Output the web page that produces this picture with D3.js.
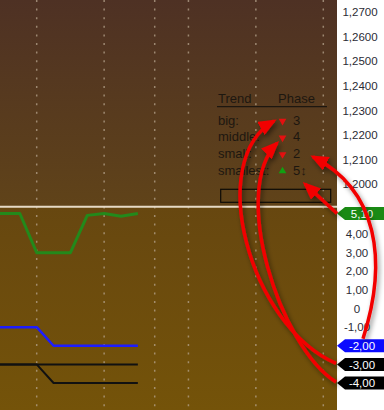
<!DOCTYPE html>
<html>
<meta charset="utf-8">
<title>Trend phase oscillator</title>
<script src="https://d3js.org/d3.v7.min.js"></script>
<style>
body { margin: 0; background: #fff; }
svg { display: block; font-family: "Liberation Sans", Arial, sans-serif; }
.grid { stroke: #b5a38c; stroke-width: 1.5; stroke-dasharray: 2,6.6; opacity: .75; }
.axis text { font-family: "Liberation Sans", Arial, sans-serif; font-size: 11.5px; fill: #2b2b35; }
.legend text { font-size: 13px; fill: #1d1710; }
.tag text { font-family: "Liberation Sans", Arial, sans-serif; font-size: 11.5px; fill: #fff; }
.arrow { fill: none; stroke: #f20000; stroke-width: 3.5; }
</style>
<body>
<svg width="384" height="410"></svg>
<script>
// values
var priceTicks = [1.27, 1.26, 1.25, 1.24, 1.23, 1.22, 1.21, 1.20];
var oscTicks = [4, 3, 2, 1, 0, -1, -2, -3, -4];
var gridBars = [3, 7, 10, 12, 16, 20];
var greenSeries = [5.1, 5.1, 5.1, 3, 3, 3, 5.0, 5.1, 4.95, 5.1];
var blueSeries = [-1, -1, -1, -1, -2, -2, -2, -2, -2, -2];
var blackSeries = [-3, -3, -3, -3, -3, -3, -3, -3, -3, -3];
var black2Series = [-3, -3, -3, -3, -4, -4, -4, -4, -4, -4];
var trendNames = ["big:", "middle:", "small:", "smallest:"];
var phaseValues = [3, 4, 2, 5];
var phaseDirs = ["down", "down", "down", "up"];

var svg = d3.select("svg"),
  W = +svg.attr("width"), H = +svg.attr("height"),
  plotW = 337, split = 206.7;

var x = d3.scaleLinear().domain([3, 20]).range([36.7, 323.3]);
var yPrice = d3.scaleLinear().domain([1.20, 1.27]).range([184.3, 11.7]);
var yOsc = d3.scaleLinear().domain([-4, 4]).range([383, 234]);

var loc = d3.formatLocale({decimal: ",", thousands: ".", grouping: [3], currency: ["", ""], minus: "-"});
var fPrice = loc.format(".4f"), fOsc2 = loc.format(".2f");
var fOsc = function(d) { return d === 0 ? "0" : fOsc2(d); };

var defs = svg.append("defs");
function grad(id, c0, c1) {
  var g = defs.append("linearGradient").attr("id", id).attr("x1", 0).attr("y1", 0).attr("x2", 0).attr("y2", 1);
  g.append("stop").attr("offset", "0%").attr("stop-color", c0);
  g.append("stop").attr("offset", "100%").attr("stop-color", c1);
}
grad("topBg", "#4e3124", "#604319");
grad("botBg", "#674710", "#745309");
defs.append("clipPath").attr("id", "botClip").append("rect")
  .attr("x", 0).attr("y", split).attr("width", plotW).attr("height", H - split);
var sh = defs.append("filter").attr("id", "shadow").attr("x", "-20%").attr("y", "-20%").attr("width", "140%").attr("height", "140%");
sh.append("feDropShadow").attr("dx", 2).attr("dy", 3).attr("stdDeviation", 2.5)
  .attr("flood-color", "#000").attr("flood-opacity", 0.45);
defs.append("marker").attr("id", "head")
  .attr("viewBox", "0 0 18 15").attr("refX", 15).attr("refY", 7.5)
  .attr("markerWidth", 18).attr("markerHeight", 15)
  .attr("markerUnits", "userSpaceOnUse").attr("orient", "auto")
  .append("path").attr("d", "M0,0L18,7.5L0,15Z").attr("fill", "#f20000");

// panels
svg.append("rect").attr("x", 0).attr("y", 0).attr("width", plotW).attr("height", split).attr("fill", "url(#topBg)");
svg.append("rect").attr("x", 0).attr("y", split).attr("width", plotW).attr("height", H - split).attr("fill", "url(#botBg)");

svg.selectAll(".grid").data(gridBars).enter().append("line")
  .attr("class", "grid")
  .attr("x1", function(d) { return x(d); }).attr("x2", function(d) { return x(d); })
  .attr("y1", 0).attr("y2", H);

svg.append("line").attr("x1", 0).attr("x2", plotW).attr("y1", split).attr("y2", split)
  .attr("stroke", "#e6dac6").attr("stroke-width", 2);

// oscillator lines
var line = d3.line().x(function(d, i) { return x(i); }).y(function(d) { return yOsc(d); });
var series = [
  {values: greenSeries, color: "#23891b", width: 3},
  {values: blueSeries, color: "#1c1cff", width: 2.5},
  {values: blackSeries, color: "#111", width: 2},
  {values: black2Series, color: "#111", width: 2}
];
var lastVals = series.map(function(s) { return s.values[s.values.length - 1]; });
svg.append("g").attr("clip-path", "url(#botClip)")
  .selectAll("path").data(series).enter().append("path")
  .attr("d", function(d) { return line(d.values); })
  .attr("fill", "none")
  .attr("stroke", function(d) { return d.color; })
  .attr("stroke-width", function(d) { return d.width; })
  .attr("stroke-linejoin", "round");

// right axis (tags hide the ticks they sit on)
svg.append("rect").attr("x", plotW).attr("y", 0).attr("width", W - plotW).attr("height", H).attr("fill", "#fff");
svg.append("g").attr("class", "axis").attr("transform", "translate(" + plotW + ",0)")
  .call(d3.axisRight(yPrice).tickValues(priceTicks).tickFormat(fPrice).tickSize(0))
  .call(function(g) { g.select(".domain").remove(); })
  .selectAll("text").attr("x", 23).attr("text-anchor", "middle");
svg.append("g").attr("class", "axis").attr("transform", "translate(" + plotW + ",0)")
  .call(d3.axisRight(yOsc).tickValues(oscTicks.filter(function(t) { return lastVals.indexOf(t) < 0; }))
    .tickFormat(fOsc).tickSize(0))
  .call(function(g) { g.select(".domain").remove(); })
  .selectAll("text").attr("x", 20).attr("text-anchor", "middle");

// last value tags
var tagColors = ["#1a8a14", "#0b0bff", "#000", "#000"];
var tags = svg.selectAll(".tag").data(lastVals).enter().append("g").attr("class", "tag")
  .attr("transform", function(d) { return "translate(" + plotW + "," + yOsc(d) + ")"; });
tags.append("path")
  .attr("d", "M0,0L8,-6.5L" + (W - plotW) + ",-6.5L" + (W - plotW) + ",6.5L8,6.5Z")
  .attr("fill", function(d, i) { return tagColors[i]; });
tags.append("text").attr("x", 25).attr("dy", "0.36em").attr("text-anchor", "middle")
  .text(function(d) { return fOsc(d); });

// legend
var lx = 218, rowY = function(i) { return 120 + i * 16.7; };
var lg = svg.append("g").attr("class", "legend");
lg.append("text").attr("x", lx).attr("y", 103).text("Trend");
lg.append("text").attr("x", lx + 60).attr("y", 103).text("Phase");
lg.append("line").attr("x1", lx - 1).attr("x2", lx + 109).attr("y1", 106.7).attr("y2", 106.7)
  .attr("stroke", "#1d1710").attr("stroke-width", 1.2);
var rows = lg.selectAll(".row").data(trendNames).enter().append("g").attr("class", "row");
rows.append("text").attr("x", lx).attr("y", function(d, i) { return rowY(i); }).attr("dy", "0.36em").text(function(d) { return d; });
rows.append("path")
  .attr("d", d3.symbol(d3.symbolTriangle, 26))
  .attr("fill", function(d, i) { return phaseDirs[i] === "up" ? "#12a012" : "#e41010"; })
  .attr("transform", function(d, i) {
    return "translate(" + (lx + 64.5) + "," + (rowY(i) + 1) + ")" + (phaseDirs[i] === "up" ? "" : " rotate(180)");
  });
rows.append("text").attr("x", lx + 75).attr("y", function(d, i) { return rowY(i); }).attr("dy", "0.36em")
  .text(function(d, i) { return phaseValues[i] + (phaseDirs[i] === "up" ? "\u2195" : ""); });
lg.append("rect").attr("x", lx + 2.7).attr("y", 189.3).attr("width", 110).attr("height", 13)
  .attr("fill", "none").attr("stroke", "#0d0a06").attr("stroke-width", 1.2);

// annotation arrows: from the value tags to the legend
function pt(a, dx, dy) { return [a[0] + dx, a[1] + dy]; }
var tipA = [plotW - 1, yOsc(-3) - 1], tipB = [plotW - 1, yOsc(-4) - 1],
  tipC = [363, yOsc(-2) - 7], tipD = [plotW, yOsc(5.1)];
var toA = [lx + 56, rowY(0) + 1], toB = [lx + 59, rowY(1) + 6.5],
  toC = [lx + 95, rowY(2) + 3.5], toD = [lx + 87, 184];
var arrows = [
  [tipA, pt(tipA, -87, -38), pt(toA, -69, 39), toA],
  [tipB, pt(tipB, -57, -36), pt(toB, -47, 47), toB],
  [tipC, pt(tipC, 25, -78), pt(toC, 65, 33), toC],
  [tipD, tipD, toD, toD]
];
svg.append("g").attr("filter", "url(#shadow)")
  .selectAll("path").data(arrows).enter().append("path")
  .attr("class", "arrow")
  .attr("marker-end", "url(#head)")
  .attr("d", function(p) {
    var q = d3.path();
    q.moveTo(p[0][0], p[0][1]);
    q.bezierCurveTo(p[1][0], p[1][1], p[2][0], p[2][1], p[3][0], p[3][1]);
    return q.toString();
  });
</script>
</body>
</html>
